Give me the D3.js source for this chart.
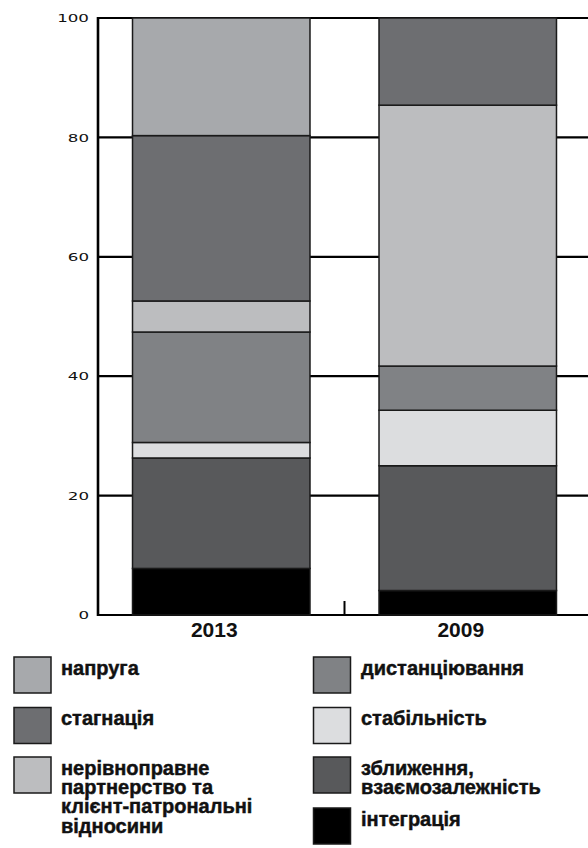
<!DOCTYPE html>
<html>
<head>
<meta charset="utf-8">
<script src="https://cdn.jsdelivr.net/npm/d3@7"></script>
<style>
  html, body { margin: 0; padding: 0; background: #fff; }
  svg { display: block; }
</style>
</head>
<body>
<svg id="chart" width="588" height="848"></svg>
<script>
// ---- data ----
const years = ["2013", "2009"];
// stack order, bottom to top
const seriesNames = ["інтеграція", "зближення, взаємозалежність", "стабільність", "дистанціювання",
  "нерівноправне партнерство та клієнт-патрональні відносини", "стагнація", "напруга"];
const values2013 = [7.8, 18.5, 2.6, 18.5, 5.2, 27.7, 19.7];
const values2009 = [4.1, 20.9, 9.3, 7.4, 43.7, 14.6, 0];
const seriesColors = ["#000000", "#58595b", "#dcdddf", "#808285", "#bcbdbf", "#6d6e71", "#a7a9ac"];
const yTicks = [0, 20, 40, 60, 80, 100];
const yTickLabels = ["0", "20", "40", "60", "80", "100"];
// legend: [series index, label lines]
const legendLeft = [
  [6, ["напруга"]],
  [5, ["стагнація"]],
  [4, ["нерівноправне", "партнерство та", "клієнт-патрональні", "відносини"]]
];
const legendRight = [
  [3, ["дистанціювання"]],
  [2, ["стабільність"]],
  [1, ["зближення,", "взаємозалежність"]],
  [0, ["інтеграція"]]
];

// ---- build ----
const svg = d3.select("#chart");
const W = 588;
const x = d3.scaleBand().domain(years).range([98, 591]).paddingInner(0.28).paddingOuter(0.14);
const y = d3.scaleLinear().domain([0, 100]).range([615, 18]);

const rows = years.map((yr, i) => {
  const vals = i === 0 ? values2013 : values2009;
  const o = { year: yr };
  seriesNames.forEach((s, j) => o[s] = vals[j]);
  return o;
});
const stack = d3.stack().keys(seriesNames)(rows);

// gridlines
svg.append("g").selectAll("line").data(yTicks.filter(d => d > 0)).join("line")
  .attr("x1", 98).attr("x2", W).attr("y1", d => y(d)).attr("y2", d => y(d))
  .attr("stroke", "#000").attr("stroke-width", 2.2);

// bottom axis line
svg.append("line").attr("x1", 98).attr("x2", W).attr("y1", y(0)).attr("y2", y(0))
  .attr("stroke", "#000").attr("stroke-width", 2.2);
// category boundary ticks
const bounds = [98, (x("2013") + x.bandwidth() + x("2009")) / 2];
svg.append("g").selectAll("line").data(bounds).join("line")
  .attr("x1", d => d).attr("x2", d => d).attr("y1", y(0)).attr("y2", y(0) - 14)
  .attr("stroke", "#000").attr("stroke-width", 2);

// bars
svg.append("g").selectAll("g").data(stack).join("g")
  .attr("fill", (d, i) => seriesColors[i])
  .selectAll("rect").data(d => d.filter(p => p[1] - p[0] > 0)).join("rect")
  .attr("x", d => x(d.data.year))
  .attr("width", x.bandwidth())
  .attr("y", d => y(d[1]))
  .attr("height", d => y(d[0]) - y(d[1]))
  .attr("stroke", "#1a1a1a").attr("stroke-width", 1.5);

// y axis line
svg.append("line").attr("x1", 98).attr("x2", 98).attr("y1", y(100) - 1).attr("y2", y(0) + 1)
  .attr("stroke", "#000").attr("stroke-width", 2.6);

// y tick labels (wide, low glyphs)
svg.append("g").selectAll("text").data(yTicks).join("text")
  .attr("x", 89).attr("y", d => y(d) + 0.5).attr("dy", "0.36em")
  .attr("text-anchor", "end")
  .attr("font-family", "DejaVu Sans, sans-serif").attr("font-size", 10)
  .attr("textLength", (d, i) => yTickLabels[i].length * 10.6)
  .attr("lengthAdjust", "spacingAndGlyphs")
  .attr("fill", "#111")
  .text((d, i) => yTickLabels[i]);

// category labels
svg.append("g").selectAll("text").data(years).join("text")
  .attr("x", d => x(d) + x.bandwidth() / 2 - 7).attr("y", 637)
  .attr("text-anchor", "middle")
  .attr("font-family", "Liberation Sans, Arial, sans-serif").attr("font-weight", "bold")
  .attr("font-size", 21).attr("fill", "#111")
  .text(d => d);

// legend
const rowTops = [657, 707.5, 757, 808];
function drawLegend(items, sx, tx) {
  const g = svg.append("g");
  items.forEach((it, r) => {
    const top = rowTops[r];
    g.append("rect").attr("x", sx).attr("y", top).attr("width", 37).attr("height", 36)
      .attr("fill", seriesColors[it[0]]).attr("stroke", "#1a1a1a").attr("stroke-width", 1.5);
    const t = g.append("text").attr("x", tx).attr("y", top + 17.5)
      .attr("font-family", "Liberation Sans Narrow, Arial Narrow, sans-serif")
      .attr("font-weight", "bold").attr("font-size", 20).attr("fill", "#111")
      .attr("stroke", "#111").attr("stroke-width", 0.45);
    it[1].forEach((line, k) => {
      t.append("tspan").attr("x", tx).attr("dy", k === 0 ? 0 : 19.4).text(line);
    });
  });
}
drawLegend(legendLeft, 14, 61);
drawLegend(legendRight, 313.5, 361);
</script>
</body>
</html>
